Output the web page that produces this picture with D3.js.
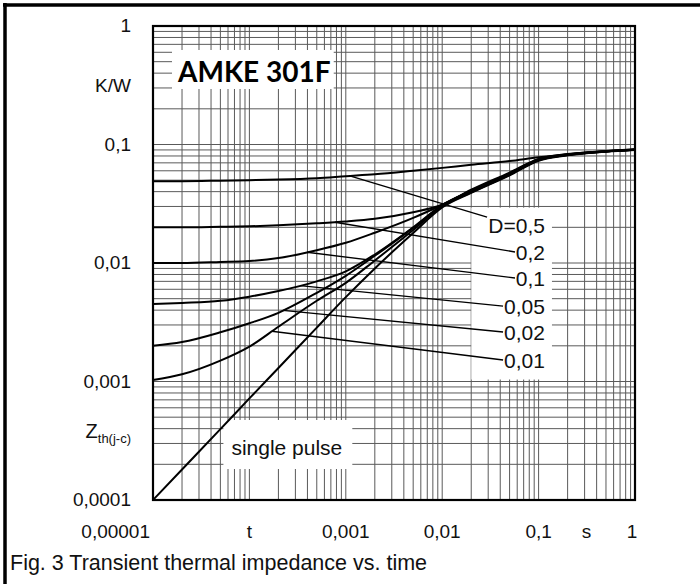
<!DOCTYPE html>
<html>
<head>
<meta charset="utf-8">
<script src="https://cdn.jsdelivr.net/npm/d3@7"></script>
<style>
  html, body { margin: 0; padding: 0; background: #fff; }
  svg { display: block; font-family: "Liberation Sans", Arial, sans-serif; }
  .grid line { stroke: #5a5a5a; stroke-width: 1; }
  .curve { fill: none; stroke: #000; stroke-width: 2; }
  .leader { stroke: #000; stroke-width: 1.4; }
  .tick { font-size: 19px; fill: #111; }
  .lbl { font-size: 21px; fill: #111; }
</style>
</head>
<body>
<svg id="chart" width="700" height="584"></svg>
<script>
// time axis samples (s) shared by all curves
const times = [1e-5, 2e-5, 5e-5, 1e-4, 2e-4, 5e-4, 1e-3, 2e-3, 5e-3, 1e-2, 2e-2, 5e-2, 0.1, 0.2, 0.5, 1];

// Zth(j-c) in K/W
const zD050 = [0.049, 0.049, 0.0495, 0.0500, 0.0506, 0.0520, 0.0540, 0.0560, 0.0600, 0.0635, 0.0675, 0.0725, 0.0780, 0.0825, 0.0875, 0.0905];
const zD020 = [0.0200, 0.0200, 0.0202, 0.0204, 0.0208, 0.0216, 0.0224, 0.0236, 0.0268, 0.0310, 0.0415, 0.0580, 0.0755, 0.0830, 0.0880, 0.0910];
const zD010 = [0.0100, 0.0100, 0.0102, 0.0104, 0.0110, 0.0128, 0.0148, 0.0180, 0.0240, 0.0310, 0.0410, 0.0570, 0.0750, 0.0825, 0.0877, 0.0907];
const zD005 = [0.0045, 0.0046, 0.0048, 0.0052, 0.0058, 0.0070, 0.0085, 0.0118, 0.0200, 0.0308, 0.0405, 0.0565, 0.0745, 0.0820, 0.0875, 0.0905];
const zD002 = [0.0020, 0.00215, 0.0026, 0.0031, 0.0038, 0.0056, 0.0078, 0.0115, 0.0198, 0.0303, 0.0400, 0.0560, 0.0740, 0.0817, 0.0873, 0.0903];
const zD001 = [0.00103, 0.00115, 0.0015, 0.00197, 0.0029, 0.0048, 0.0068, 0.0105, 0.0190, 0.0300, 0.0395, 0.0555, 0.0735, 0.0815, 0.0872, 0.0902];
const zSingle = [0.0001, 0.000181, 0.000396, 0.00072, 0.0013, 0.00285, 0.00515, 0.0090, 0.0179, 0.0294, 0.0390, 0.0550, 0.0730, 0.0810, 0.0870, 0.0900];

const dutySeries = [zD050, zD020, zD010, zD005, zD002, zD001];
const dutyLabels = ["D=0,5", "0,2", "0,1", "0,05", "0,02", "0,01"];
// leader lines: where they leave the curve (t) and where they end (t, Z)
const leaderFromT = [1.1e-3, 7.7e-4, 3.96e-4, 3.35e-4, 2.23e-4, 1.71e-4];
const leaderToT = [0.0292, 0.0569, 0.0569, 0.0428, 0.0428, 0.0428];
const leaderToZ = [0.0244, 0.01239, 0.00747, 0.00433, 0.00262, 0.00152];
const labelT = 0.1164;
const labelZ = [0.0209, 0.01239, 0.00747, 0.00433, 0.00257, 0.00152];

const xTicks = [1e-5, 1e-3, 1e-2, 0.1, 1];
const xTickLabels = ["0,00001", "0,001", "0,01", "0,1", "1"];
const yTicks = [1e-4, 1e-3, 1e-2, 0.1, 1];
const yTickLabels = ["0,0001", "0,001", "0,01", "0,1", "1"];

const svg = d3.select("#chart");
const W = 700, H = 584;
const m = { left: 153, right: 635, top: 26, bottom: 500 };

const x = d3.scaleLog().domain([1e-5, 1]).range([m.left, m.right]);
const y = d3.scaleLog().domain([1e-4, 1]).range([m.bottom, m.top]);

// figure frame (top + left only, as in the scan)
svg.append("line").attr("x1", 3).attr("x2", W).attr("y1", 5).attr("y2", 5)
  .attr("stroke", "#000").attr("stroke-width", 3.5);
svg.append("line").attr("x1", 5).attr("x2", 5).attr("y1", 3).attr("y2", H)
  .attr("stroke", "#000").attr("stroke-width", 3.5);

// log grid
const xGrid = [], yGrid = [];
for (let d = -5; d < 0; d++) for (let k = 1; k < 10; k++) xGrid.push(k * Math.pow(10, d));
for (let d = -4; d < 0; d++) for (let k = 1; k < 10; k++) yGrid.push(k * Math.pow(10, d));

const grid = svg.append("g").attr("class", "grid");
grid.selectAll(".gx").data(xGrid).join("line")
  .attr("x1", d => x(d)).attr("x2", d => x(d))
  .attr("y1", m.top).attr("y2", m.bottom);
grid.selectAll(".gy").data(yGrid).join("line")
  .attr("x1", m.left).attr("x2", m.right)
  .attr("y1", d => y(d)).attr("y2", d => y(d));

// white patches behind texts inside the plot
const patches = svg.append("g");

// curves
const line = d3.line()
  .x((d, i) => x(times[i]))
  .y(d => y(d))
  .curve(d3.curveMonotoneX);

svg.append("g").selectAll("path")
  .data([...dutySeries, zSingle]).join("path")
  .attr("class", "curve")
  .attr("d", d => line(d));

// log-log interpolation on a series
function zAt(series, t) {
  const i = Math.max(0, d3.bisectRight(times, t) - 1);
  const j = Math.min(times.length - 1, i + 1);
  if (i === j) return series[i];
  const f = (Math.log10(t) - Math.log10(times[i])) / (Math.log10(times[j]) - Math.log10(times[i]));
  return Math.pow(10, Math.log10(series[i]) + f * (Math.log10(series[j]) - Math.log10(series[i])));
}

// duty-cycle labels
const labels = svg.append("g");
const lblText = labels.selectAll("text").data(dutyLabels).join("text")
  .attr("class", "lbl")
  .attr("text-anchor", "end")
  .attr("x", x(labelT))
  .attr("y", (d, i) => y(labelZ[i]))
  .attr("dy", "0.36em")
  .text(d => d);

// patch behind the label column
let bb = null;
lblText.each(function () {
  const b = this.getBBox();
  if (!bb) bb = { x0: b.x, y0: b.y, x1: b.x + b.width, y1: b.y + b.height };
  else {
    bb.x0 = Math.min(bb.x0, b.x); bb.y0 = Math.min(bb.y0, b.y);
    bb.x1 = Math.max(bb.x1, b.x + b.width); bb.y1 = Math.max(bb.y1, b.y + b.height);
  }
});
patches.append("rect")
  .attr("x", bb.x0 - 17).attr("y", bb.y0 - 6)
  .attr("width", bb.x1 - bb.x0 + 24).attr("height", bb.y1 - bb.y0 + 14)
  .attr("fill", "#fff");

labels.selectAll("line").data(dutyLabels).join("line")
  .attr("class", "leader")
  .attr("x1", (d, i) => x(leaderFromT[i]))
  .attr("y1", (d, i) => y(zAt(dutySeries[i], leaderFromT[i])))
  .attr("x2", (d, i) => x(leaderToT[i]))
  .attr("y2", (d, i) => y(leaderToZ[i]));

// "single pulse"
const sp = svg.append("text").attr("class", "lbl")
  .attr("x", x(1e-4) - 18).attr("y", 455).text("single pulse");
const spb = sp.node().getBBox();
patches.append("rect")
  .attr("x", spb.x - 8).attr("y", 420)
  .attr("width", spb.width + 18).attr("height", 49)
  .attr("fill", "#fff");

// type title
const title = svg.append("text")
  .attr("x", 178).attr("y", 82)
  .attr("font-family", "Lato, 'Open Sans', sans-serif")
  .attr("font-weight", "bold")
  .attr("font-size", 28)
  .attr("fill", "#000")
  .text("AMKE 301F");
const tb = title.node().getBBox();
patches.append("rect")
  .attr("x", tb.x - 5).attr("y", 50)
  .attr("width", tb.width + 8).attr("height", 39)
  .attr("fill", "#fff");

// plot frame
svg.append("rect")
  .attr("x", m.left).attr("y", m.top)
  .attr("width", m.right - m.left).attr("height", m.bottom - m.top)
  .attr("fill", "none").attr("stroke", "#000").attr("stroke-width", 2.2);

// x tick labels
const xLabY = m.bottom + 38;
svg.append("g").selectAll("text").data(xTicks).join("text")
  .attr("class", "tick")
  .attr("text-anchor", (d, i) => i === 0 ? "end" : "middle")
  .attr("x", (d, i) => i === 0 ? x(d) - 3 : (i === xTicks.length - 1 ? x(d) - 3 : x(d)))
  .attr("y", xLabY)
  .text((d, i) => xTickLabels[i]);
svg.append("text").attr("class", "tick").attr("text-anchor", "middle")
  .attr("x", x(1e-4)).attr("y", xLabY).text("t");
svg.append("text").attr("class", "tick").attr("text-anchor", "middle")
  .attr("x", x(0.3) + 2).attr("y", xLabY).text("s");

// y tick labels
svg.append("g").selectAll("text").data(yTicks).join("text")
  .attr("class", "tick")
  .attr("text-anchor", "end")
  .attr("x", 131)
  .attr("y", d => y(d))
  .attr("dy", "0.33em")
  .text((d, i) => yTickLabels[i]);
svg.append("text").attr("class", "tick").attr("text-anchor", "end")
  .attr("x", 131).attr("y", 92).text("K/W");

const zl = svg.append("text").attr("class", "tick").attr("text-anchor", "end")
  .attr("x", 131).attr("y", 438);
zl.append("tspan").attr("font-size", 20).text("Z");
zl.append("tspan").attr("font-size", 13).attr("dy", 5).text("th(j-c)");

// caption
svg.append("text")
  .attr("x", 10).attr("y", 570)
  .attr("font-size", 21.5).attr("fill", "#111")
  .text("Fig. 3 Transient thermal impedance vs. time");
</script>
</body>
</html>
